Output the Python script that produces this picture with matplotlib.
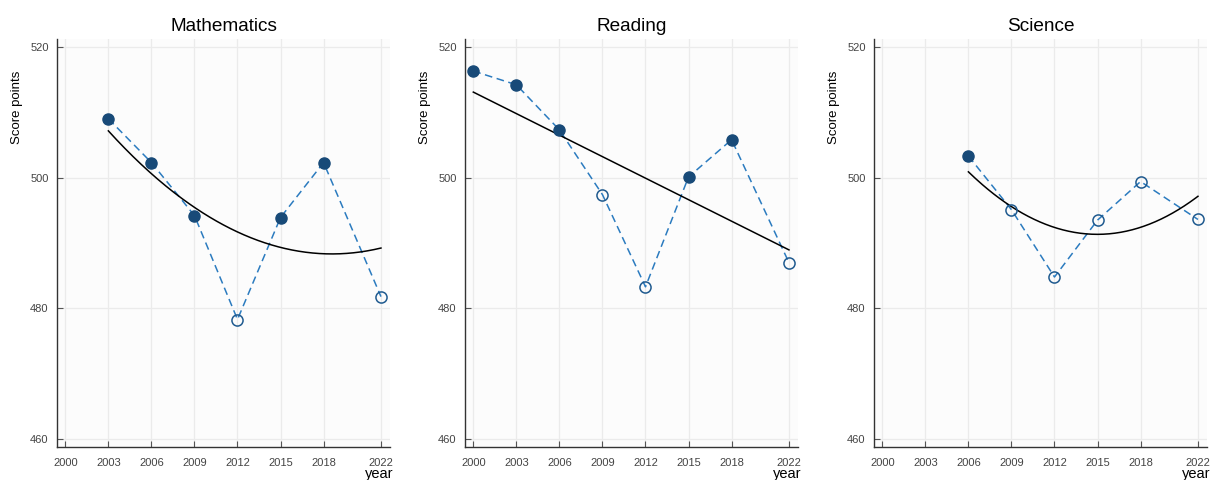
import numpy as np
import matplotlib
matplotlib.use("Agg")
import matplotlib.pyplot as plt

plt.rcParams['font.family'] = ['Liberation Sans', 'DejaVu Sans']

subjects = ["Mathematics", "Reading", "Science"]

math_years = [2003, 2006, 2009, 2012, 2015, 2018, 2022]
math_scores = [509.0, 502.3, 494.2, 478.3, 493.9, 502.3, 481.8]
math_filled = [True, True, True, False, True, True, False]

read_years = [2000, 2003, 2006, 2009, 2012, 2015, 2018, 2022]
read_scores = [516.3, 514.2, 507.3, 497.4, 483.3, 500.1, 505.8, 487.0]
read_filled = [True, True, True, False, False, True, True, False]

sci_years = [2006, 2009, 2012, 2015, 2018, 2022]
sci_scores = [503.3, 495.1, 484.8, 493.5, 499.4, 493.6]
sci_filled = [True, False, False, False, False, False]

fit_degree = [2, 1, 2]

xticks = [2000, 2003, 2006, 2009, 2012, 2015, 2018, 2022]
yticks = [460, 480, 500, 520]

data = [(math_years, math_scores, math_filled),
        (read_years, read_scores, read_filled),
        (sci_years, sci_scores, sci_filled)]

fig = plt.figure(figsize=(12.13, 4.8), dpi=100)
W, H = 1213, 480
lefts = [57, 465, 874]
line_c = '#2b7bbf'
fill_c = '#184a78'
edge_c = '#1f5a8f'

for i, (subj, (yrs, sc, fl)) in enumerate(zip(subjects, data)):
    ax = fig.add_axes([lefts[i] / W, 33 / H, 333 / W, 408 / H])
    ax.set_facecolor('#fcfcfc')
    yrs = np.array(yrs, dtype=float)
    sc = np.array(sc)
    fl = np.array(fl)
    ax.plot(yrs, sc, linestyle=(0, (5, 3)), color=line_c, lw=1.1, zorder=2)
    coef = np.polyfit(yrs - 2000, sc, fit_degree[i])
    xs = np.linspace(yrs.min(), yrs.max(), 200)
    ax.plot(xs, np.polyval(coef, xs - 2000), color='black', lw=1.1, zorder=3)
    ax.plot(yrs[fl], sc[fl], 'o', ms=8, color=fill_c, mec=fill_c, zorder=4, linestyle='none')
    ax.plot(yrs[~fl], sc[~fl], 'o', ms=8, mfc='none', mec=edge_c, mew=1.1, zorder=4, linestyle='none')
    ax.set_xlim(1999.42, 2022.63)
    ax.set_ylim(458.8, 521.2)
    ax.set_xticks(xticks)
    ax.set_yticks(yticks)
    ax.grid(True, color='#ebebeb', lw=0.9)
    ax.set_axisbelow(True)
    for s in ['top', 'right']:
        ax.spines[s].set_visible(False)
    for s in ['left', 'bottom']:
        ax.spines[s].set_color('#333333')
        ax.spines[s].set_linewidth(1.0)
    ax.tick_params(direction='in', length=4, width=0.8, colors='#555555', labelsize=8,
                   labelcolor='#444444', pad=6)
    ax.tick_params(axis='x', pad=8)
    ax.set_title(subj, fontsize=13.7, pad=6)
    ax.set_ylabel('Score points', fontsize=9.5)
    ax.yaxis.set_label_coords(-34 / 333, 0.833)
    ax.set_xlabel('year', fontsize=10.5)
    ax.xaxis.set_label_coords(1.01, -27 / 408)
    ax.xaxis.label.set_ha('right')
    ax.xaxis.label.set_va('center')

fig.savefig('out.png', dpi=100)
